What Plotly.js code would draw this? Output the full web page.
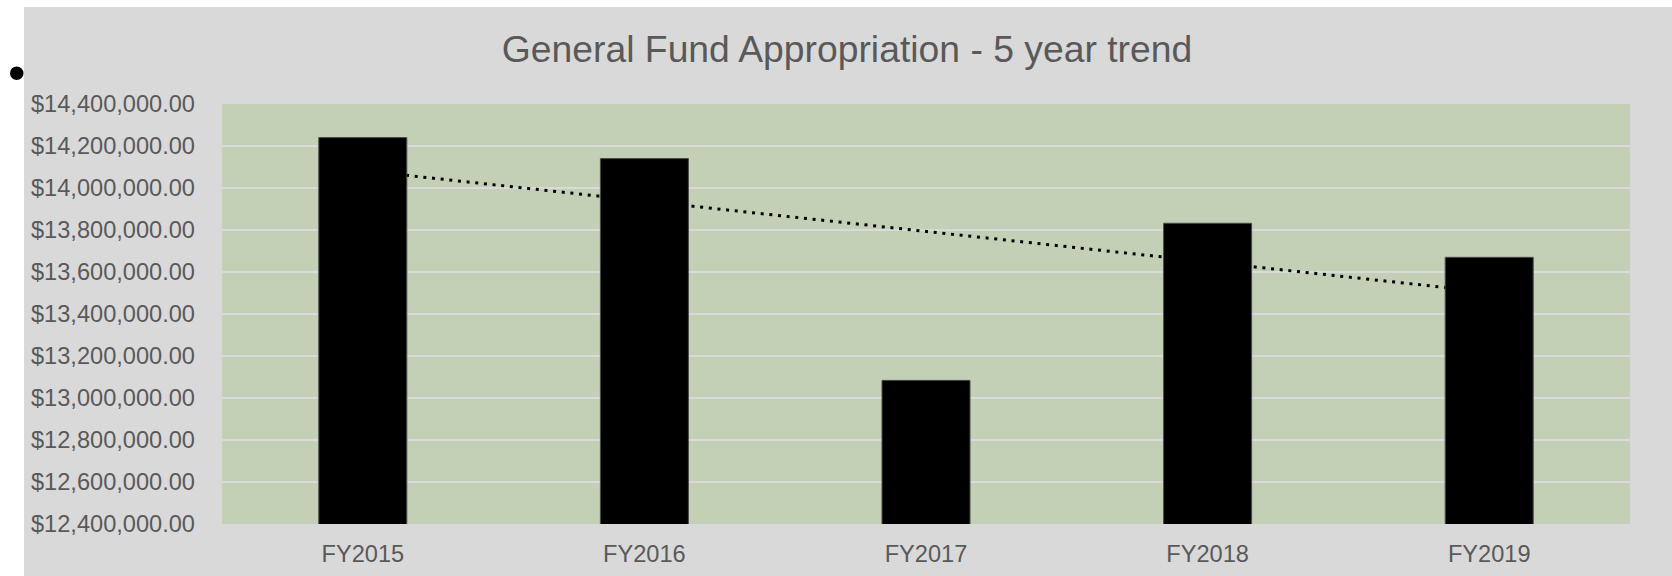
<!DOCTYPE html>
<html>
<head>
<meta charset="utf-8">
<script src="https://cdn.plot.ly/plotly-3.0.1.min.js"></script>
<style>
html,body{margin:0;padding:0;background:#ffffff;}
#chart{width:1672px;height:576px;}
</style>
</head>
<body>
<div id="chart"></div>
<script>
const categories = ['FY2015', 'FY2016', 'FY2017', 'FY2018', 'FY2019'];
const appropriation = [14240000, 14140000, 13084000, 13832000, 13670000];
const titleText = 'General Fund Appropriation - 5 year trend';

// Linear trendline (least squares over category index), as Excel draws it
const n = appropriation.length;
const xs = appropriation.map((_, i) => i + 1);
const mx = xs.reduce((a, b) => a + b, 0) / n;
const my = appropriation.reduce((a, b) => a + b, 0) / n;
let sxy = 0, sxx = 0;
for (let i = 0; i < n; i++) { sxy += (xs[i] - mx) * (appropriation[i] - my); sxx += (xs[i] - mx) * (xs[i] - mx); }
const slope = sxy / sxx;
const trend = xs.map(x => my + slope * (x - mx));

const W = 1672, H = 576;
const M = {l: 222, r: 42, t: 104, b: 52};
const pw = W - M.l - M.r, ph = H - M.t - M.b;
const px2x = p => (p - M.l) / pw;
const px2y = p => (H - M.b - p) / ph;

const font = 'Liberation Sans, Arial, sans-serif';
const grey = '#595959';

const traces = [
  {
    type: 'scatter', mode: 'lines', x: categories, y: trend,
    line: {color: '#000000', width: 3, dash: '3px,5.7px'},
    hoverinfo: 'skip', showlegend: false, zorder: 0
  },
  {
    type: 'bar', x: categories, y: appropriation,
    marker: {color: '#000000', line: {color: '#4a4a4a', width: 1}},
    showlegend: false, zorder: 1
  }
];

const layout = {
  width: W, height: H,
  margin: M,
  paper_bgcolor: '#D9D9D9',
  plot_bgcolor: '#C4D0B6',
  bargap: 0.6875,
  showlegend: false,
  font: {family: font, color: grey, size: 23.6},
  title: {
    text: titleText,
    font: {family: font, size: 37.3, color: grey},
    x: 847 / W, xref: 'container', xanchor: 'center',
    y: 1 - 49 / H, yref: 'container', yanchor: 'middle'
  },
  xaxis: {
    type: 'category', range: [-0.5, 4.5],
    showgrid: false, zeroline: false, showline: false, ticks: '',
    tickfont: {family: font, size: 23.6, color: grey},
    ticklabelstandoff: 13
  },
  yaxis: {
    range: [12400000, 14400000], dtick: 200000, tick0: 12400000,
    tickformat: '$,.2f',
    showgrid: true, gridcolor: '#DADADA', gridwidth: 1.5,
    zeroline: false, showline: false, ticks: '',
    tickfont: {family: font, size: 23.6, color: grey},
    ticklabelstandoff: 26
  },
  shapes: [
    {
      type: 'rect', xref: 'paper', yref: 'paper', layer: 'below',
      x0: px2x(-10), x1: px2x(24), y0: px2y(H + 10), y1: px2y(-10),
      fillcolor: '#ffffff', line: {width: 0}
    },
    {
      type: 'rect', xref: 'paper', yref: 'paper', layer: 'below',
      x0: px2x(-10), x1: px2x(W + 10), y0: px2y(7), y1: px2y(-10),
      fillcolor: '#ffffff', line: {width: 0}
    }
  ],
  annotations: [
    {
      text: '•', xref: 'paper', yref: 'paper', x: px2x(17), y: px2y(73),
      xanchor: 'center', yanchor: 'middle', showarrow: false,
      font: {family: font, size: 50, color: '#000000'}
    }
  ]
};

Plotly.newPlot('chart', traces, layout, {displayModeBar: false, staticPlot: true});
</script>
</body>
</html>
